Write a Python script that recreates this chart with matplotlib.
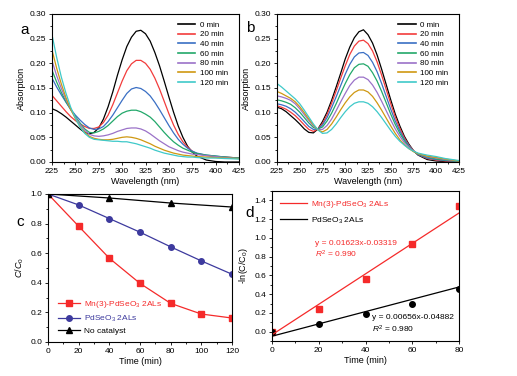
import matplotlib
matplotlib.use("Agg")
import matplotlib.pyplot as plt
from matplotlib.ticker import MultipleLocator, FormatStrFormatter
import numpy as np

plt.rcParams['font.family'] = ['Liberation Sans', 'DejaVu Sans']
plt.rcParams['mathtext.fontset'] = 'custom'
plt.rcParams['mathtext.rm'] = 'Liberation Sans'
plt.rcParams['mathtext.it'] = 'Liberation Sans:italic'

# ---------------- data ----------------
wavelength = [225, 230, 235, 240, 245, 250, 255, 260, 265, 270, 275, 280, 285, 290,
              295, 300, 305, 310, 315, 320, 325, 330, 335, 340, 345, 350, 355, 360,
              365, 370, 375, 380, 390, 400, 410, 425]
time_labels = ['0 min', '20 min', '40 min', '60 min', '80 min', '100 min', '120 min']

# panel a spectra (Mn(3)-PdSeO3 2ALs)
a_0 = [0.108, 0.104, 0.098, 0.091, 0.083, 0.075, 0.067, 0.060, 0.057, 0.060, 0.069, 0.087,
       0.112, 0.142, 0.176, 0.207, 0.234, 0.253, 0.265, 0.267, 0.260, 0.245, 0.222, 0.195,
       0.164, 0.132, 0.101, 0.073, 0.050, 0.032, 0.020, 0.012, 0.004, 0.001, 0.000, 0.000]
a_20 = [0.135, 0.124, 0.113, 0.102, 0.092, 0.084, 0.077, 0.072, 0.068, 0.068, 0.071, 0.080,
        0.095, 0.116, 0.140, 0.164, 0.185, 0.199, 0.206, 0.206, 0.200, 0.188, 0.170, 0.148,
        0.123, 0.098, 0.075, 0.056, 0.041, 0.030, 0.022, 0.017, 0.013, 0.011, 0.010, 0.008]
a_40 = [0.170, 0.152, 0.136, 0.121, 0.107, 0.095, 0.085, 0.076, 0.069, 0.066, 0.067, 0.072,
        0.082, 0.095, 0.110, 0.125, 0.139, 0.148, 0.151, 0.149, 0.143, 0.134, 0.121, 0.106,
        0.090, 0.074, 0.059, 0.046, 0.036, 0.028, 0.022, 0.018, 0.014, 0.012, 0.010, 0.008]
a_60 = [0.186, 0.162, 0.141, 0.122, 0.106, 0.092, 0.079, 0.067, 0.060, 0.059, 0.062, 0.067,
        0.074, 0.083, 0.092, 0.099, 0.103, 0.105, 0.105, 0.102, 0.097, 0.091, 0.082, 0.071,
        0.060, 0.050, 0.041, 0.034, 0.028, 0.024, 0.020, 0.017, 0.014, 0.012, 0.010, 0.008]
a_80 = [0.205, 0.175, 0.149, 0.126, 0.107, 0.090, 0.076, 0.064, 0.056, 0.053, 0.052, 0.053,
        0.055, 0.058, 0.062, 0.065, 0.068, 0.069, 0.069, 0.067, 0.063, 0.057, 0.050, 0.043,
        0.037, 0.031, 0.027, 0.023, 0.020, 0.018, 0.016, 0.015, 0.013, 0.011, 0.009, 0.007]
a_100 = [0.227, 0.190, 0.158, 0.130, 0.107, 0.088, 0.072, 0.060, 0.052, 0.048, 0.046, 0.045,
         0.045, 0.046, 0.048, 0.050, 0.051, 0.050, 0.048, 0.045, 0.041, 0.037, 0.032, 0.028,
         0.024, 0.021, 0.018, 0.016, 0.014, 0.013, 0.012, 0.011, 0.010, 0.009, 0.008, 0.007]
a_120 = [0.258, 0.212, 0.172, 0.139, 0.111, 0.089, 0.071, 0.058, 0.050, 0.046, 0.045, 0.044,
         0.043, 0.042, 0.042, 0.041, 0.041, 0.039, 0.037, 0.034, 0.031, 0.028, 0.024, 0.021,
         0.018, 0.016, 0.014, 0.012, 0.011, 0.010, 0.010, 0.009, 0.008, 0.008, 0.007, 0.006]

# panel b spectra (PdSeO3 2ALs)
b_0 = [0.111, 0.108, 0.102, 0.094, 0.086, 0.077, 0.067, 0.060, 0.059, 0.067, 0.082, 0.101,
       0.125, 0.152, 0.180, 0.209, 0.233, 0.252, 0.264, 0.268, 0.258, 0.241, 0.217, 0.188,
       0.157, 0.126, 0.097, 0.073, 0.052, 0.036, 0.023, 0.014, 0.005, 0.002, 0.001, 0.000]
b_20 = [0.114, 0.111, 0.107, 0.101, 0.094, 0.085, 0.075, 0.066, 0.062, 0.067, 0.078, 0.096,
        0.119, 0.144, 0.170, 0.195, 0.218, 0.235, 0.245, 0.247, 0.240, 0.225, 0.203, 0.176,
        0.147, 0.118, 0.091, 0.068, 0.049, 0.034, 0.023, 0.015, 0.007, 0.004, 0.002, 0.001]
b_40 = [0.118, 0.116, 0.113, 0.108, 0.101, 0.092, 0.082, 0.072, 0.066, 0.067, 0.075, 0.090,
        0.110, 0.132, 0.155, 0.178, 0.198, 0.213, 0.221, 0.222, 0.216, 0.202, 0.183, 0.159,
        0.133, 0.107, 0.083, 0.063, 0.046, 0.033, 0.022, 0.015, 0.008, 0.005, 0.003, 0.001]
b_60 = [0.126, 0.124, 0.121, 0.117, 0.110, 0.101, 0.090, 0.079, 0.070, 0.067, 0.071, 0.083,
        0.099, 0.118, 0.139, 0.159, 0.177, 0.191, 0.198, 0.199, 0.194, 0.181, 0.164, 0.143,
        0.120, 0.097, 0.076, 0.058, 0.043, 0.031, 0.022, 0.016, 0.010, 0.006, 0.004, 0.001]
b_80 = [0.134, 0.132, 0.129, 0.125, 0.118, 0.108, 0.096, 0.084, 0.073, 0.066, 0.066, 0.074,
        0.087, 0.104, 0.122, 0.139, 0.155, 0.166, 0.172, 0.172, 0.167, 0.156, 0.141, 0.123,
        0.104, 0.085, 0.067, 0.052, 0.039, 0.030, 0.022, 0.017, 0.011, 0.008, 0.005, 0.002]
b_100 = [0.143, 0.139, 0.134, 0.129, 0.122, 0.112, 0.100, 0.087, 0.075, 0.065, 0.061, 0.066,
         0.077, 0.091, 0.106, 0.120, 0.132, 0.141, 0.146, 0.146, 0.142, 0.133, 0.120, 0.105,
         0.089, 0.073, 0.058, 0.045, 0.035, 0.027, 0.021, 0.017, 0.012, 0.009, 0.006, 0.002]
b_120 = [0.159, 0.152, 0.144, 0.136, 0.128, 0.118, 0.105, 0.091, 0.077, 0.065, 0.058, 0.059,
         0.066, 0.077, 0.090, 0.102, 0.112, 0.119, 0.122, 0.122, 0.119, 0.112, 0.102, 0.090,
         0.077, 0.064, 0.052, 0.042, 0.034, 0.027, 0.022, 0.018, 0.014, 0.011, 0.007, 0.003]

# panel c: C/C0 vs time
c_time = [0, 20, 40, 60, 80, 100, 120]
c_mn = [1.0, 0.782, 0.566, 0.396, 0.261, 0.189, 0.162]
c_pd = [1.0, 0.926, 0.834, 0.742, 0.643, 0.548, 0.458]
nocat_time = [0, 40, 80, 120]
c_nocat = [1.0, 0.973, 0.939, 0.912]
c_labels = ['Mn(3)-PdSeO$_3$ 2ALs', 'PdSeO$_3$ 2ALs', 'No catalyst']

# panel d: -ln(C/C0) vs time with linear fits
d_time = [0, 20, 40, 60, 80]
d_mn = [0.0, 0.245, 0.565, 0.934, 1.339]
d_pd = [0.0, 0.078, 0.185, 0.298, 0.451]
fit_mn = (0.01623, -0.03319)
fit_pd = (0.00656, -0.04882)
fit_mn_text = 'y = 0.01623x-0.03319'
fit_pd_text = 'y = 0.00656x-0.04882'
r2_mn_text = '$R^2$ = 0.990'
r2_pd_text = '$R^2$ = 0.980'

# ---------------- style ----------------
spec_colors = ['#000000', '#f23c3c', '#3a6fc4', '#22a86a', '#9b72c8', '#cf9812', '#3fc9c9']
RED = '#f52a2a'
BLUE = '#3d3a9e'

fig = plt.figure(figsize=(5.17, 3.76), dpi=100)
W, H = 517.0, 376.0


def box(l, t, r, b):
    return [l / W, 1 - b / H, (r - l) / W, (b - t) / H]


ax_a = fig.add_axes(box(52, 14, 239, 162))
ax_b = fig.add_axes(box(277, 14, 459, 162))
ax_c = fig.add_axes(box(48, 194, 232, 342))
ax_d = fig.add_axes(box(272, 191, 459, 341))

TICK = 6
LAB = 6.5


def style(ax):
    for s in ax.spines.values():
        s.set_linewidth(0.8)
    ax.tick_params(which='both', direction='out', labelsize=TICK, width=0.6, pad=1.5)
    ax.tick_params(which='major', length=2.5)
    ax.tick_params(which='minor', length=1.5)


for ax, series in ((ax_a, [a_0, a_20, a_40, a_60, a_80, a_100, a_120]),
                   (ax_b, [b_0, b_20, b_40, b_60, b_80, b_100, b_120])):
    for ys, col, lab in zip(series, spec_colors, time_labels):
        ax.plot(wavelength, ys, color=col, lw=0.9, label=lab)
    ax.set_xlim(225, 425)
    ax.set_ylim(0, 0.30)
    ax.xaxis.set_major_locator(MultipleLocator(25))
    ax.xaxis.set_minor_locator(MultipleLocator(12.5))
    ax.yaxis.set_major_locator(MultipleLocator(0.05))
    ax.yaxis.set_minor_locator(MultipleLocator(0.025))
    ax.yaxis.set_major_formatter(FormatStrFormatter('%.2f'))
    ax.set_xlabel('Wavelength (nm)', fontsize=LAB, labelpad=2)
    ax.set_ylabel('Absorption', fontsize=LAB, labelpad=3)
    style(ax)
    leg = ax.legend(loc='upper right', fontsize=5.8, frameon=False, handlelength=2.2,
                    handletextpad=0.5, labelspacing=0.25, borderaxespad=0.3,
                    bbox_to_anchor=(0.97, 0.99))
    for line in leg.get_lines():
        line.set_linewidth(1.2)

# panel c
ax_c.plot(c_time, c_mn, color=RED, marker='s', ms=4, lw=0.9, label=c_labels[0])
ax_c.plot(c_time, c_pd, color=BLUE, marker='o', ms=4, lw=0.9, label=c_labels[1])
ax_c.plot(nocat_time, c_nocat, color='black', marker='^', ms=4, lw=0.9, label=c_labels[2])
ax_c.set_xlim(0, 120)
ax_c.set_ylim(0, 1.0)
ax_c.xaxis.set_major_locator(MultipleLocator(20))
ax_c.xaxis.set_minor_locator(MultipleLocator(10))
ax_c.yaxis.set_major_locator(MultipleLocator(0.2))
ax_c.yaxis.set_minor_locator(MultipleLocator(0.1))
ax_c.yaxis.set_major_formatter(FormatStrFormatter('%.1f'))
ax_c.set_xlabel('Time (min)', fontsize=LAB, labelpad=2)
ax_c.set_ylabel('$C/C_0$', fontsize=LAB, labelpad=3)
style(ax_c)
leg_c = ax_c.legend(loc='lower left', fontsize=6, frameon=False, handlelength=2.6,
                    handletextpad=0.5, labelspacing=0.45, borderaxespad=0.4,
                    bbox_to_anchor=(0.02, 0.0))
for txt, col in zip(leg_c.get_texts(), [RED, BLUE, 'black']):
    txt.set_color(col)

# panel d
ax_d.plot(d_time, d_mn, linestyle='none', marker='s', ms=4, color=RED)
ax_d.plot(d_time, d_pd, linestyle='none', marker='o', ms=4, color='black')
xs = np.array([d_time[0], d_time[-1]])
ax_d.plot(xs, fit_mn[0] * xs + fit_mn[1], color=RED, lw=0.9, label=c_labels[0])
ax_d.plot(xs, fit_pd[0] * xs + fit_pd[1], color='black', lw=0.9, label=c_labels[1])
ax_d.set_xlim(0, 80)
ax_d.set_ylim(-0.1, 1.5)
ax_d.xaxis.set_major_locator(MultipleLocator(20))
ax_d.xaxis.set_minor_locator(MultipleLocator(10))
ax_d.set_yticks(np.arange(0, 1.41, 0.2))
ax_d.yaxis.set_minor_locator(MultipleLocator(0.1))
ax_d.yaxis.set_major_formatter(FormatStrFormatter('%.1f'))
ax_d.set_xlabel('Time (min)', fontsize=LAB, labelpad=2)
ax_d.set_ylabel('-ln(C/C$_0$)', fontsize=LAB, labelpad=3)
style(ax_d)
leg_d = ax_d.legend(loc='upper left', fontsize=6, frameon=False, handlelength=3.3,
                    handletextpad=0.5, labelspacing=0.7, borderaxespad=0.5,
                    bbox_to_anchor=(0.0, 1.0))
for txt, col in zip(leg_d.get_texts(), [RED, 'black']):
    txt.set_color(col)
ax_d.text(18.5, 0.945, fit_mn_text, color=RED, fontsize=6, va='center')
ax_d.text(18.5, 0.82, r2_mn_text, color=RED, fontsize=6, va='center')
ax_d.text(42.7, 0.15, fit_pd_text, color='black', fontsize=6, va='center')
ax_d.text(42.7, 0.02, r2_pd_text, color='black', fontsize=6, va='center')

# panel letters
for s, x, y in (('a', 25, 30), ('b', 250, 28), ('c', 20, 222), ('d', 250, 213)):
    fig.text(x / W, 1 - y / H, s, fontsize=11, ha='center', va='center')

fig.savefig('out.png', dpi=100)
